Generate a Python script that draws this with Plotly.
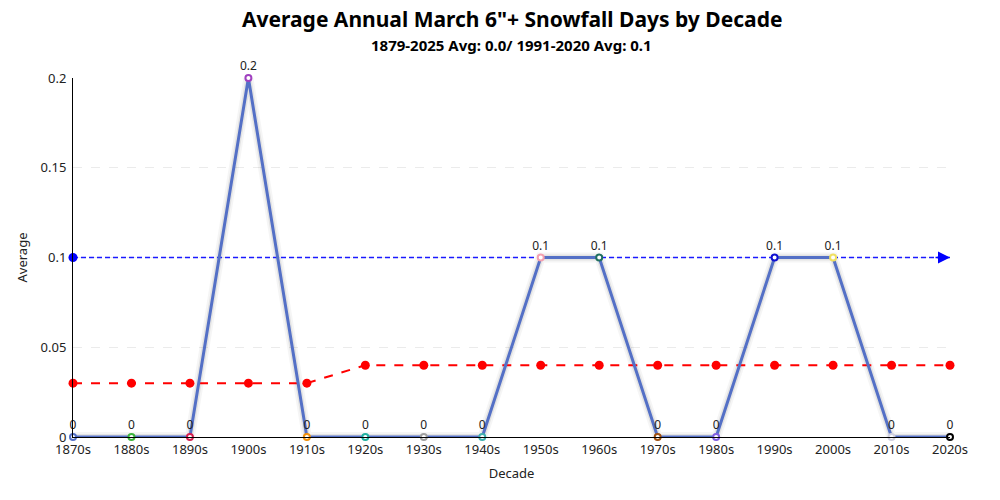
import plotly.graph_objects as go

decades = ["1870s", "1880s", "1890s", "1900s", "1910s", "1920s", "1930s", "1940s",
           "1950s", "1960s", "1970s", "1980s", "1990s", "2000s", "2010s", "2020s"]
averages = [0, 0, 0, 0.2, 0, 0, 0, 0, 0.1, 0.1, 0, 0, 0.1, 0.1, 0, 0]
running_avg = [0.03, 0.03, 0.03, 0.03, 0.03, 0.04, 0.04, 0.04,
               0.04, 0.04, 0.04, 0.04, 0.04, 0.04, 0.04, 0.04]
normal_value = 0.1
point_colors = ["#5470c6", "#3cb43c", "#d62050", "#a040c0", "#f0900c", "#20b0a0",
                "#a0a0a0", "#40b0b0", "#f4a0b0", "#207060", "#a05010", "#8060e0",
                "#1010d0", "#f0e060", "#d0d0e0", "#000000"]
labels = [("%g" % v) for v in averages]
title_text = "Average Annual March 6\"+ Snowfall Days by Decade"
subtitle_text = "1879-2025 Avg: 0.0/ 1991-2020 Avg: 0.1"

FONT = "Noto Sans"
fig = go.Figure()

# shadow of main line
for w, a in [(10, 0.04), (6, 0.07)]:
    fig.add_trace(go.Scatter(x=decades, y=averages, mode="lines",
                             line=dict(color=f"rgba(0,0,0,{a})", width=w),
                             hoverinfo="skip", showlegend=False, cliponaxis=False))

# normal line (dashed blue with arrow)
fig.add_trace(go.Scatter(x=[decades[0], decades[-1]], y=[normal_value, normal_value],
                         mode="lines", line=dict(color="#1a1aff", width=1.5, dash="5px,3px"),
                         showlegend=False, cliponaxis=False))
fig.add_trace(go.Scatter(x=[decades[0]], y=[normal_value], mode="markers",
                         marker=dict(color="rgb(0,0,255)", size=9), showlegend=False,
                         cliponaxis=False))

# running average (red dashed)
fig.add_trace(go.Scatter(x=decades, y=running_avg, mode="lines+markers",
                         line=dict(color="#ff0000", width=2, dash="dash"),
                         marker=dict(color="#ff0000", size=9),
                         showlegend=False, cliponaxis=False))

# main series
fig.add_trace(go.Scatter(x=decades, y=averages, mode="lines+markers+text",
                         line=dict(color="#5470c6", width=3),
                         marker=dict(color="white", size=6,
                                     line=dict(color=point_colors, width=2)),
                         text=labels, textposition="top center",
                         textfont=dict(family=FONT, size=12, color="#222"),
                         showlegend=False, cliponaxis=False))

fig.add_annotation(x=decades[-1], y=normal_value, xref="x", yref="y",
                   ax=-16, ay=0, axref="pixel", ayref="pixel", text="",
                   showarrow=True, arrowhead=2, arrowsize=1.6, arrowwidth=1.5,
                   arrowcolor="rgb(0,0,255)")

fig.add_annotation(text=f"<b>{title_text}</b>", xref="paper", yref="paper",
                   x=0.5, y=1.165, xanchor="center", yanchor="middle", showarrow=False,
                   font=dict(family=FONT, size=21, color="black"))
fig.add_annotation(text=f"<b>{subtitle_text}</b>", xref="paper", yref="paper",
                   x=0.5, y=1.092, xanchor="center", yanchor="middle", showarrow=False,
                   font=dict(family=FONT, size=15, color="black"))

fig.update_layout(
    width=1000, height=500,
    paper_bgcolor="white", plot_bgcolor="white",
    margin=dict(l=65, r=58, t=70, b=71),
    font=dict(family=FONT, size=13, color="#222"),
    xaxis=dict(type="category", range=[0, 15], showgrid=False, showline=True,
               linecolor="black", linewidth=1, ticks="", zeroline=False,
               title=dict(text="Decade", font=dict(size=13), standoff=12),
               tickfont=dict(size=13)),
    yaxis=dict(range=[0, 0.2], dtick=0.05, showgrid=True, gridcolor="#ebebeb",
               griddash="dash", showline=True, linecolor="black", linewidth=1,
               zeroline=False, ticks="", tickfont=dict(size=13), ticklabelstandoff=3,
               title=dict(text="Average", font=dict(size=13), standoff=10)),
)

fig.write_html("out.html")
